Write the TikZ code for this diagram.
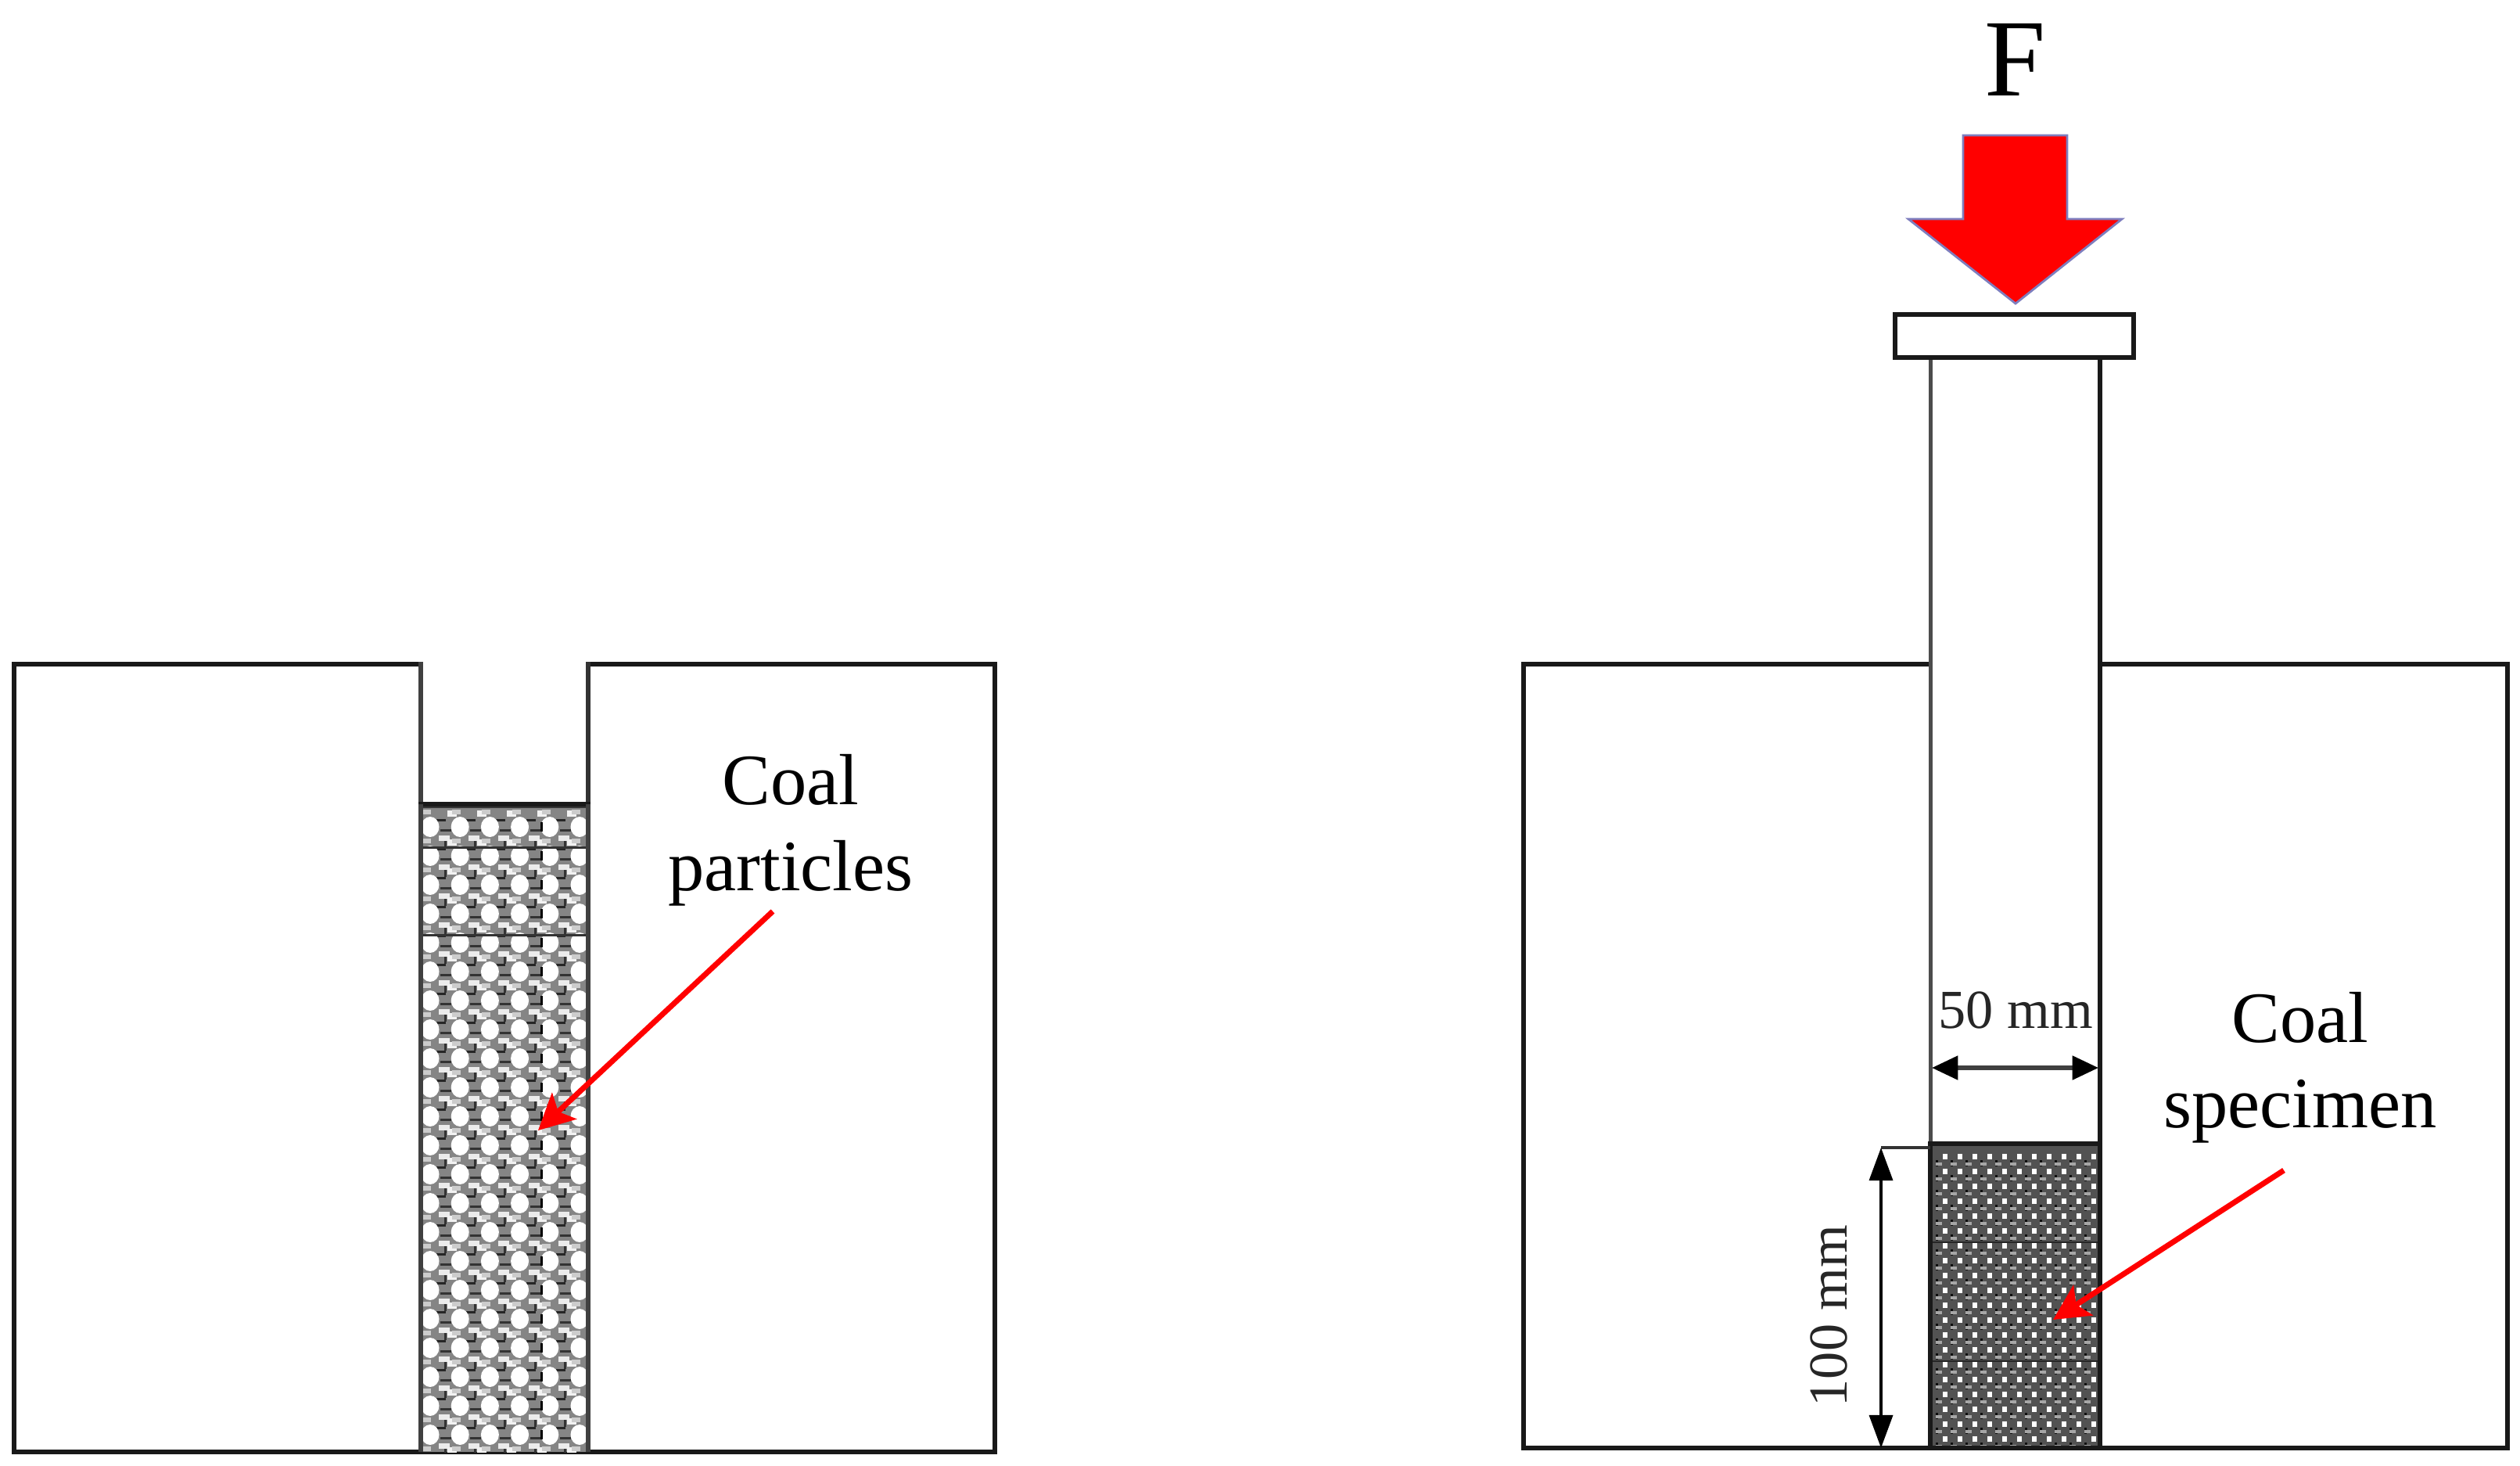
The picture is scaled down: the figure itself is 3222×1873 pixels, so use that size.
\documentclass[tikz,border=0pt]{standalone}
\usepackage{fontspec}
\setmainfont{Liberation Serif}
\usetikzlibrary{arrows.meta}
\tikzset{
  x=0.01cm,y=-0.01cm,
  wall/.style={draw=black!90,line width=1.5pt,line cap=rect},
  thinwall/.style={draw=black!70,line width=1.5pt},
  callout/.style={draw=red,line width=2pt,-{Stealth[length=13pt,width=13pt,inset=3pt]}},
  dim/.style={draw=black,line width=1.2pt,{Triangle[length=12pt,width=8.5pt]}-{Triangle[length=12pt,width=8.5pt]}},
  dimb/.style={draw=black!75,line width=1.6pt,{Triangle[length=9.5pt,width=8.5pt,black]}-{Triangle[length=9.5pt,width=8.5pt,black]}},
  label/.style={inner sep=0pt,font=\fontsize{26.3}{28}\selectfont},
  dimlabel/.style={inner sep=0pt,font=\fontsize{20}{22}\selectfont,text=black!85},
}
\begin{document}
\begin{tikzpicture}
\useasboundingbox (0,0) rectangle (3222,1873);
% left mould
\draw[wall] (538,849) -- (18,849) -- (18,1856) -- (1272,1856) -- (1272,849) -- (752,849);
\draw[wall,draw=black!75] (538,849) -- (538,1028);
\draw[wall,draw=black!80] (752,849) -- (752,1028);
% coal particles
\begin{scope}
\clip (538,1028) rectangle (752,1856);
\fill[black!48] (538,1028) rectangle (752,1856);
\foreach \j in {0,...,22}{
  \foreach \i in {0,...,5}{
    \fill[black!85] (558+38.2*\i,1047+37*\j) rectangle +(12,3);
    \fill[black!80] (563+38.2*\i,1060+37*\j) rectangle +(14,3);
    \fill[black!80] (568+38.2*\i,1074+37*\j) rectangle +(3,10);
    \fill[white] (550+38.2*\i,1057+37*\j) ellipse (11.5 and 13);
    \fill[white!92!black] (561+38.2*\i,1068+37*\j) rectangle +(14,7);
    \fill[white!95!black] (572+38.2*\i,1036+37*\j) rectangle +(12,8);
    \fill[white!80!black] (540+38.2*\i,1035+37*\j) rectangle +(11,6);
  }
  \fill[black] (691,1051+37*\j) rectangle +(3,12);
}
\foreach \yy in {1031,1083,1195}{
  \fill[black!80] (538,\yy-1.5) rectangle (752,\yy+1.5);
}
\end{scope}
\draw[wall] (538,1028) -- (752,1028);
\draw[wall,draw=black!75,line cap=butt] (538,1028) -- (538,1856) (752,1028) -- (752,1856);
% right mould
\draw[wall] (2468,849) -- (1948,849) -- (1948,1851) -- (3206,1851) -- (3206,849) -- (2685,849);
% ram
\draw[thinwall,line width=1.4pt] (2468,457) -- (2468,1462);
\draw[wall] (2685,457) -- (2685,1462);
\draw[wall,fill=white] (2423,402) rectangle (2728,457);
% coal specimen
\begin{scope}
\clip (2468,1462) rectangle (2685,1851);
\fill[black!68] (2468,1462) rectangle (2685,1851);
\foreach \j in {0,...,20}{
  \foreach \i in {-1,...,10}{
    \fill[white] (2484+19*\i,1475+19*\j) rectangle +(6,7);
    \fill[black!35] (2475+19*\i,1486+19*\j) rectangle +(8,4);
    \fill[black!95] (2494+19*\i,1483+19*\j) rectangle +(3,8);
  }
}
\foreach \yy in {1588,1740}{
  \fill[black!85] (2468,\yy-1) rectangle (2685,\yy+1);
}
\end{scope}
\draw[wall] (2468,1462) rectangle (2685,1851);
% force arrow
\fill[red,draw=black!20!blue!45!gray!70,line width=0.8pt,line join=miter]
  (2510,173) -- (2643,173) -- (2643,280) -- (2713,280) -- (2577,388) -- (2440,280) -- (2510,280) -- cycle;
\node[inner sep=0pt,font=\fontsize{40}{42}\selectfont] (force) at (2577,76) {F};
% labels
\node[label] (coal1) at (1011,997) {Coal};
\node[label] (part) at (1011,1116) {particles};
\node[label] (coal2) at (2941,1301) {Coal};
\node[label] (spec) at (2941,1421) {specimen};
\node[dimlabel] (fifty) at (2577,1291) {50 mm};
\node[dimlabel,rotate=90] (hundred) at (2338,1682) {100 mm};
% dimensions
\coordinate (wl) at (2470,1365);
\coordinate (wr) at (2683,1365);
\draw[dimb] (wl) -- (wr);
\coordinate (ht) at (2405,1467);
\coordinate (hb) at (2405,1851);
\coordinate (hs) at (2468,1467);
\draw[draw=black!80,line width=1.4pt] (ht) -- (hs);
\draw[dim] (ht) -- (hb);
% callouts
\coordinate (ca) at (988,1165);
\coordinate (cb) at (688,1445);
\coordinate (cc) at (2920,1496);
\coordinate (cd) at (2625,1687);
\draw[callout] (ca) -- (cb);
\draw[callout] (cc) -- (cd);
\end{tikzpicture}
\end{document}
